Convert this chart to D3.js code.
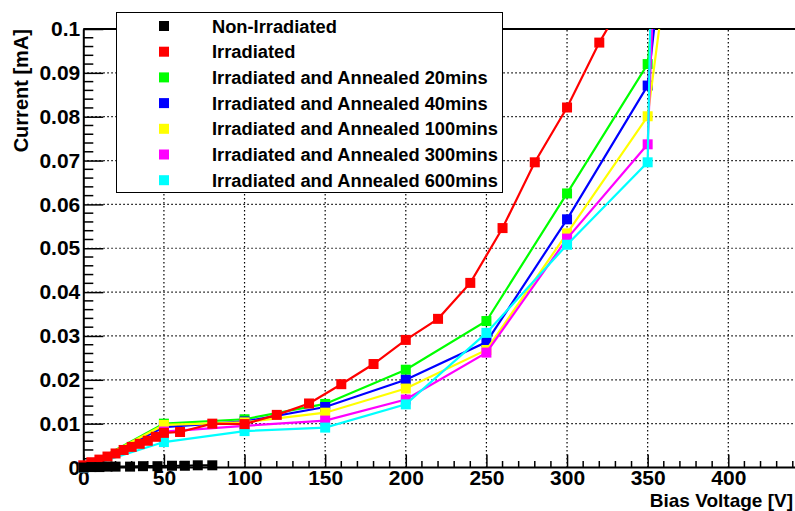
<!DOCTYPE html>
<html><head><meta charset="utf-8">
<script src="https://cdn.jsdelivr.net/npm/d3@7"></script>
<style>
body{margin:0;background:#fff}
svg{display:block}
text{font-family:"Liberation Sans",Arial,Helvetica,sans-serif;font-weight:bold;fill:#000}
</style>
</head><body>
<svg id="chart" width="795" height="511"></svg>
<script>
// ---------- data ----------
const seriesNames = [
  "Non-Irradiated",
  "Irradiated",
  "Irradiated and Annealed 20mins",
  "Irradiated and Annealed 40mins",
  "Irradiated and Annealed 100mins",
  "Irradiated and Annealed 300mins",
  "Irradiated and Annealed 600mins"
];
const seriesColors = ["#000000","#ff0000","#00ff00","#0000ff","#ffff00","#ff00ff","#00ffff"];

const nonIrrVoltage = [0, 5, 10, 15, 20, 29, 37, 46, 55, 63, 71, 80];
const nonIrrCurrent = [0.0000, 0.0001, 0.0001, 0.0002, 0.0002, 0.0002, 0.0003, 0.0003, 0.0004, 0.0004, 0.0005, 0.0005];

const irrVoltage = [0, 5, 10, 15, 20, 25, 30, 35, 40, 45, 50, 60, 80, 100, 120, 140, 160, 180, 200, 220, 240, 260, 280, 300, 320, 340];
const irrCurrent = [0.0005, 0.0012, 0.0018, 0.0025, 0.0032, 0.0040, 0.0047, 0.0054, 0.0061, 0.0070, 0.0079, 0.0081, 0.0100, 0.0099, 0.0120, 0.0146, 0.0190, 0.0236, 0.0291, 0.0339, 0.0421, 0.0546, 0.0696, 0.0821, 0.0969, 0.1095];

const annealVoltage = [0, 50, 100, 150, 200, 250, 300, 350, 400];
const ann20Current  = [0, 0.0100, 0.0110, 0.0145, 0.0223, 0.0334, 0.0625, 0.0920, 0.28];
const ann40Current  = [0, 0.0092, 0.0105, 0.0138, 0.0200, 0.0286, 0.0566, 0.0871, 0.25];
const ann100Current = [0, 0.0097, 0.0103, 0.0125, 0.0180, 0.0268, 0.0534, 0.0801, 0.22];
const ann300Current = [0, 0.0082, 0.0095, 0.0107, 0.0155, 0.0262, 0.0522, 0.0737, 0.56];
const ann600Current = [0, 0.0058, 0.0083, 0.0091, 0.0144, 0.0307, 0.0508, 0.0696, 1.05];

const xTickValues = [0, 50, 100, 150, 200, 250, 300, 350, 400];
const yTickValues = [0, 0.01, 0.02, 0.03, 0.04, 0.05, 0.06, 0.07, 0.08, 0.09, 0.1];
const yTickLabels = ["0","0.01","0.02","0.03","0.04","0.05","0.06","0.07","0.08","0.09","0.1"];
const xTitle = "Bias Voltage [V]";
const yTitle = "Current [mA]";

// ---------- build ----------
const zip = (xs, ys) => xs.map((x, i) => ({v: x, i: ys[i]}));
const series = [
  {idx:0, pts: zip(nonIrrVoltage, nonIrrCurrent)},
  {idx:1, pts: zip(irrVoltage, irrCurrent)},
  {idx:2, pts: zip(annealVoltage, ann20Current)},
  {idx:3, pts: zip(annealVoltage, ann40Current)},
  {idx:4, pts: zip(annealVoltage, ann100Current)},
  {idx:5, pts: zip(annealVoltage, ann300Current)},
  {idx:6, pts: zip(annealVoltage, ann600Current)}
];
const drawOrder = [2,3,4,5,6,1,0];

const svg = d3.select("#chart");
const X0 = 83.3, X1 = 794.4, Y0 = 467.5, Y1 = 29;
const x = d3.scaleLinear().domain([0, 441]).range([X0, X1]);
const y = d3.scaleLinear().domain([0, 0.1]).range([Y0, Y1]);
const tickFont = 21;

svg.append("defs").append("clipPath").attr("id","clip")
  .append("rect").attr("x",X0).attr("y",Y1).attr("width",X1-X0+2).attr("height",Y0-Y1);

// grid
const grid = svg.append("g");
grid.selectAll("line.gx").data(xTickValues.filter(d=>d>0)).join("line")
  .attr("x1",d=>x(d)).attr("x2",d=>x(d)).attr("y1",Y0).attr("y2",Y1)
  .attr("stroke","#000").attr("stroke-width",1.2).attr("stroke-dasharray","1.5,2.5");
grid.selectAll("line.gy").data(yTickValues.filter(d=>d>0 && d<0.1)).join("line")
  .attr("y1",d=>y(d)).attr("y2",d=>y(d)).attr("x1",X0).attr("x2",795)
  .attr("stroke","#000").attr("stroke-width",1.2).attr("stroke-dasharray","1.5,2.5");

// frame top
svg.append("line").attr("x1",X0).attr("x2",795).attr("y1",Y1).attr("y2",Y1)
  .attr("stroke","#000").attr("stroke-width",2);

// x axis
const xAxis = d3.axisBottom(x).tickValues(xTickValues).tickFormat(d3.format("d"))
  .tickSizeInner(-13).tickSizeOuter(0).tickPadding(3);
const gx = svg.append("g").attr("transform",`translate(0,${Y0})`).call(xAxis);
gx.select(".domain").attr("stroke-width",2).attr("d",`M${X0},0H795`);
gx.selectAll(".tick line").attr("stroke-width",1.5);
gx.selectAll("text").attr("font-size",tickFont);
const xMinor = d3.range(0, 441, 10).filter(d => d % 50 !== 0);
gx.selectAll("line.minor").data(xMinor).join("line").attr("class","minor")
  .attr("x1",d=>x(d)).attr("x2",d=>x(d)).attr("y1",0).attr("y2",-6.5)
  .attr("stroke","#000").attr("stroke-width",1.5);

// y axis
const yAxis = d3.axisLeft(y).tickValues(yTickValues).tickFormat((d,i)=>yTickLabels[i])
  .tickSizeInner(-20).tickSizeOuter(0).tickPadding(3);
const gy = svg.append("g").attr("transform",`translate(${X0},0)`).call(yAxis);
gy.select(".domain").attr("stroke-width",2);
gy.selectAll(".tick line").attr("stroke-width",1.5);
gy.selectAll("text").attr("font-size",tickFont);
const yMinor = d3.range(1, 50).map(k => k*0.002).filter((d,k) => (k+1) % 5 !== 0);
gy.selectAll("line.minor").data(yMinor).join("line").attr("class","minor")
  .attr("y1",d=>y(d)).attr("y2",d=>y(d)).attr("x1",0).attr("x2",10)
  .attr("stroke","#000").attr("stroke-width",1.5);
svg.selectAll(".tick text").style("font-family",'"Liberation Sans",Arial,sans-serif').style("font-weight","bold");

// titles
svg.append("text").attr("x",793).attr("y",506.5).attr("text-anchor","end")
  .attr("font-size",19).text(xTitle);
svg.append("text").attr("transform","translate(28,29) rotate(-90)").attr("text-anchor","end")
  .attr("font-size",20).text(yTitle);

// series
const line = d3.line().x(d=>x(d.v)).y(d=>y(d.i));
const plot = svg.append("g");
drawOrder.forEach(k => {
  const s = series[k];
  const col = seriesColors[s.idx];
  plot.append("path").datum(s.pts).attr("d",line).attr("fill","none")
    .attr("stroke",col).attr("stroke-width",2.2).attr("clip-path","url(#clip)");
  plot.append("g").selectAll("rect").data(s.pts.filter(p=>p.i<=0.1 && p.v<=441)).join("rect")
    .attr("x",d=>x(d.v)-5).attr("y",d=>y(d.i)-5).attr("width",10).attr("height",10)
    .attr("fill",col);
});

// legend
const lg = svg.append("g");
lg.append("rect").attr("x",116.5).attr("y",12.5).attr("width",386).attr("height",180)
  .attr("fill","#fff").attr("stroke","#000").attr("stroke-width",1);
seriesNames.forEach((name, k) => {
  const cy = 26 + k*25.7;
  lg.append("rect").attr("x",159).attr("y",cy-5).attr("width",10).attr("height",10)
    .attr("fill",seriesColors[k]);
  lg.append("text").attr("x",212).attr("y",cy).attr("dy","0.36em")
    .attr("font-size",18.3).text(name);
});
</script>
</body></html>
